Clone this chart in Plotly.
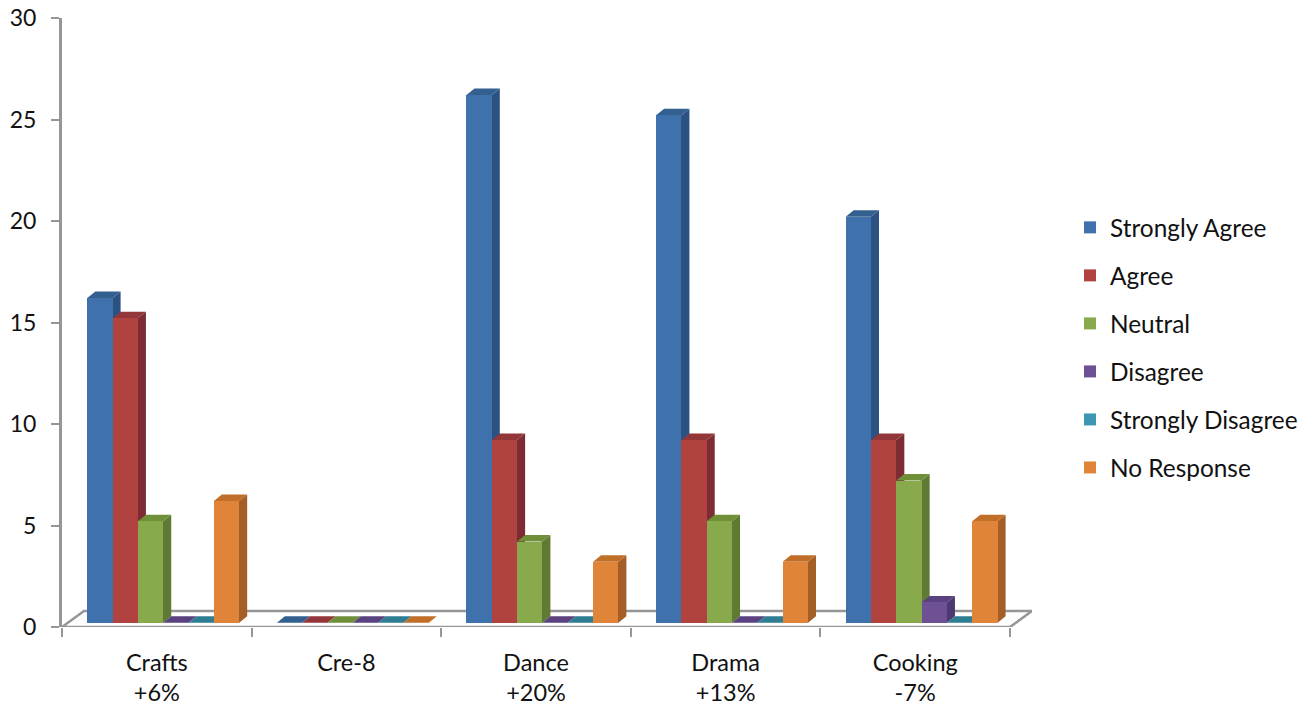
import plotly.graph_objects as go

categories = ["Crafts<br>+6%", "Cre-8", "Dance<br>+20%", "Drama<br>+13%", "Cooking<br>-7%"]
series_names = ["Strongly Agree", "Agree", "Neutral", "Disagree", "Strongly Disagree", "No Response"]
strongly_agree = [16, 0, 26, 25, 20]
agree = [15, 0, 9, 9, 9]
neutral = [5, 0, 4, 5, 7]
disagree = [0, 0, 0, 0, 1]
strongly_disagree = [0, 0, 0, 0, 0]
no_response = [6, 0, 3, 3, 5]
y_ticks = [0, 5, 10, 15, 20, 25, 30]

series_values = [strongly_agree, agree, neutral, disagree, strongly_disagree, no_response]
front_colors = ["#3f72ad", "#b0423f", "#88a94c", "#6e5095", "#3c98b2", "#e0843a"]
side_colors = ["#2b5283", "#7c2c32", "#5f7a33", "#4e3870", "#2a6e82", "#a55f26"]
top_colors = ["#34608f", "#93363a", "#6f8f38", "#5a4180", "#2f7d92", "#c06e28"]
GREY = "#969696"

PX_X = 189.7   # pixels per category
PX_Y = 20.3    # pixels per value unit
BASE = 4.3 / PX_Y
DX, DY = 8 / PX_X, 6.5 / PX_Y
START, WIDTH = 25.3 / PX_X, 25.33 / PX_X
FLOOR_DX, FLOOR_DY = 22 / PX_X, 16 / PX_Y
OVERLAP = 1.5 / PX_X
n_cat = len(categories)


def poly(points):
    return "M" + " L".join(f"{x:.4f},{y:.4f}" for x, y in points) + " Z"


shapes = [dict(type="path", layer="below", xref="x", yref="y",
               path=poly([(0, 0), (n_cat, 0), (n_cat + FLOOR_DX, FLOOR_DY), (FLOOR_DX, FLOOR_DY)]),
               line=dict(color=GREY, width=2.5), fillcolor="white")]

fig = go.Figure()
for s, (name, values) in enumerate(zip(series_names, series_values)):
    xs = [c + START + (s + 0.5) * WIDTH for c in range(n_cat)]
    fig.add_trace(go.Bar(x=xs, y=values, base=BASE, width=WIDTH, name=name, legendgroup=name,
                         marker=dict(color=front_colors[s], line=dict(width=0)),
                         hovertemplate=name + ": %{y}<extra></extra>"))
    for x, v in zip(xs, values):
        x0, x1 = x - WIDTH / 2, x + WIDTH / 2
        top = BASE + v
        shapes.append(dict(type="path", layer="below", xref="x", yref="y", line=dict(width=0),
                           fillcolor=side_colors[s],
                           path=poly([(x1 - OVERLAP, BASE), (x1, BASE), (x1 + DX, BASE + DY),
                                      (x1 + DX, top + DY), (x1, top), (x1 - OVERLAP, top)])))
        shapes.append(dict(type="path", layer="below", xref="x", yref="y", line=dict(width=0),
                           fillcolor=top_colors[s],
                           path=poly([(x0, top), (x0 + DX, top + DY), (x1 + DX, top + DY), (x1, top)])))

fig.update_layout(
    width=1314, height=706,
    margin=dict(l=62, r=1314 - 1032, t=18, b=79),
    paper_bgcolor="white", plot_bgcolor="rgba(0,0,0,0)",
    barmode="overlay", bargap=0,
    font=dict(family="Lato", size=24, color="#111111"),
    shapes=shapes,
    showlegend=True,
    legend=dict(xref="container", yref="container", x=1070 / 1314, y=1 - 205 / 706,
                xanchor="left", yanchor="top", tracegroupgap=13.3, traceorder="grouped",
                font=dict(family="Lato", size=24.4, color="#111111"), bgcolor="rgba(0,0,0,0)"),
    xaxis=dict(range=[0, n_cat + FLOOR_DX], showline=False, showgrid=False, zeroline=False,
               tickmode="array", tickvals=[c + 0.5 for c in range(n_cat)], ticktext=categories,
               ticks="", ticklabelstandoff=19, automargin=False, tickfont=dict(size=23.5),
               minor=dict(tickmode="array", tickvals=list(range(n_cat + 1)), ticks="outside",
                          ticklen=9, tickwidth=2, tickcolor=GREY, showgrid=False)),
    yaxis=dict(range=[0, 30], showline=True, linecolor=GREY, linewidth=3, showgrid=False, zeroline=False,
               tickmode="array", tickvals=y_ticks, ticks="outside", ticklen=8, tickwidth=2, tickcolor=GREY,
               ticklabelstandoff=10, automargin=False, tickfont=dict(size=23)),
)

fig.write_html("out.html", post_script="document.body.style.margin='0';",
               config=dict(displayModeBar=False))
